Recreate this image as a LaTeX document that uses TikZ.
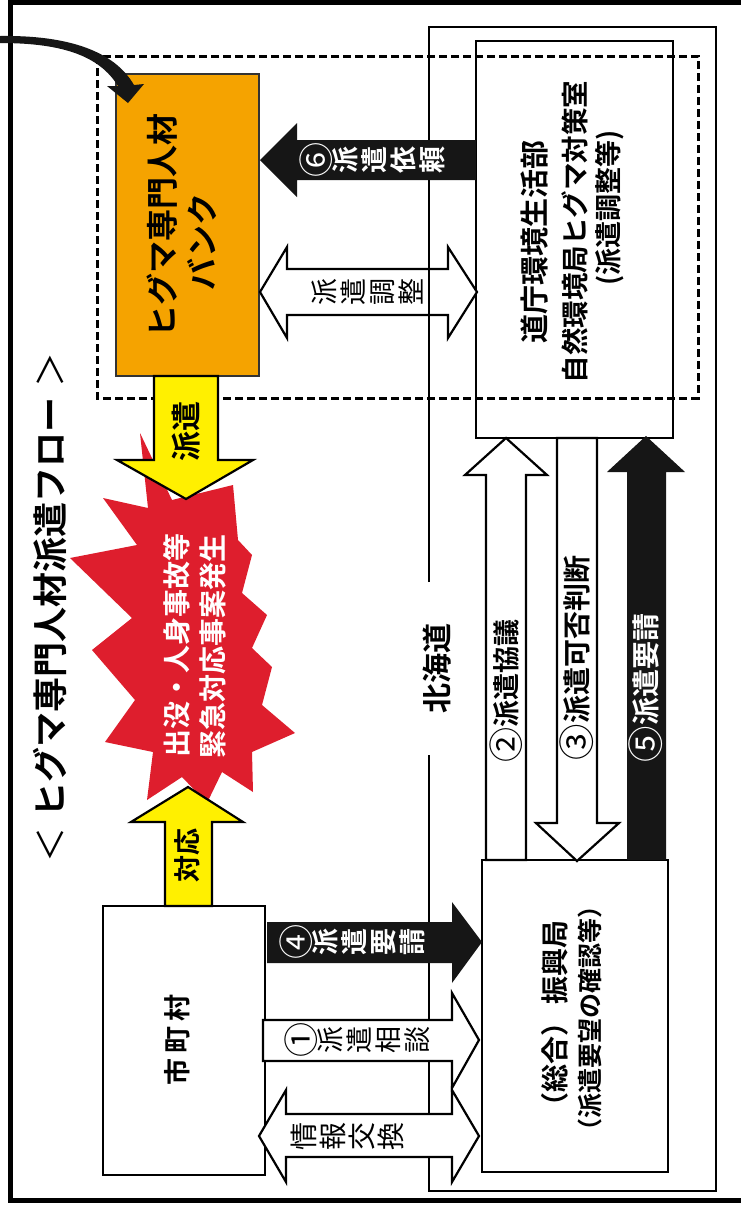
\documentclass[tikz,border=0pt]{standalone}
\usepackage{fontspec}
\usepackage{graphicx}
\setmainfont{Noto Sans CJK JP}[BoldFont={Noto Sans CJK JP Bold}]
\definecolor{bankorange}{RGB}{245,163,0}
\definecolor{arrowyellow}{RGB}{255,240,0}
\definecolor{burstred}{RGB}{222,30,45}
\definecolor{darkfill}{RGB}{22,22,22}
\newcommand{\setfs}[2]{\fontsize{#1pt}{#2pt}\selectfont}
\newcommand{\cnum}[1]{\raisebox{-0.11em}{\scalebox{1.3}{\mdseries #1}}}
\begin{document}
\begin{tikzpicture}[x=1pt,y=-1pt,
  rot/.style={rotate=90, inner sep=0pt},
  boxn/.style={draw=black, line width=2.6pt, fill=white, inner sep=0pt},
  frameline/.style={draw=black, line width=2.6pt},
  dashedframe/.style={draw=black, line width=3pt, dash pattern=on 8pt off 4pt},
  warrow/.style={draw=black, line width=2.2pt, fill=white, line join=miter},
  barrow/.style={fill=darkfill},
  yarrow/.style={draw=black, line width=2.2pt, fill=arrowyellow, line join=miter},
  tate/.style={rotate=90, inner sep=0pt, align=center},
]
\useasboundingbox (0,0) rectangle (740,1208);
\fill[white] (0,0) rectangle (740,1208);
% outer border
\draw[line width=5pt] (10.5,2.5) rectangle (760,1200);

% title
\node[rot, font=\setfs{35}{35}\bfseries] (title) at (50,607)
  {{\mdseries ＜}\hspace{10pt}ヒグマ専門人材派遣フロー\hspace{10pt}{\mdseries ＞}};

% Hokkaido frame
\draw[frameline] (429,582) -- (429,27) -- (716,27) -- (716,1191) -- (429,1191) -- (429,755);
\node[rot, font=\setfs{30}{30}\bfseries] (hokkaido) at (437,668) {北海道};

% boxes
\node[boxn, minimum width=197pt, minimum height=397pt] (dochou) at (574.5,239.5) {};
\node[boxn, minimum width=186pt, minimum height=312pt] (shinko) at (575,1016) {};
\node[boxn, minimum width=162pt, minimum height=269pt] (city) at (184,1040.5) {};
\node[boxn, fill=bankorange, draw=black!80, minimum width=143pt, minimum height=302pt] (bank) at (187.5,225) {};

% dashed group
\draw[dashedframe] (97,56) rectangle (698,398);

% red burst
\fill[burstred] (140,433) -- (172,500) -- (233,485) -- (238,540) -- (252,555) -- (242,593)
  -- (267,615) -- (252,648) -- (272,667) -- (262,705) -- (295,733) -- (252,752)
  -- (253,792) -- (222,772) -- (207,803) -- (182,777) -- (147,800) -- (153,752)
  -- (105,742) -- (135,700) -- (92,650) -- (132,618) -- (70,558) -- (137,545)
  -- (103,498) -- (148,508) -- cycle;

% curved arrow into the bank
\fill[darkfill] (0,36) .. controls (70,35) and (115,52) .. (134,85) -- (144,84) -- (128,103)
  -- (107,86) -- (118,86) .. controls (100,57) and (65,43) .. (0,43) -- cycle;

% yellow arrows
\draw[yarrow] (154,376) -- (218,376) -- (218,460) -- (253,460) -- (186,499) -- (117,460) -- (154,460) -- cycle;
\draw[yarrow] (165,906) -- (165,822) -- (131,822) -- (188,787) -- (243,822) -- (212,822) -- (212,906) -- cycle;

% (6) black arrow dochou -> bank
\fill[barrow] (260,160) -- (297,123) -- (297,140) -- (476,140) -- (476,180) -- (297,180) -- (297,197) -- cycle;
% double arrow bank <-> dochou
\draw[warrow] (260,292) -- (287,247) -- (287,269) -- (448,269) -- (448,247) -- (477,292)
  -- (448,338) -- (448,315) -- (287,315) -- (287,338) -- cycle;
\draw[frameline] (429,269) -- (429,315);

% (4) black arrow city -> shinko
\fill[barrow] (267,922) -- (452,922) -- (452,902) -- (482,942) -- (452,983) -- (452,963) -- (267,963) -- cycle;
% (1) white arrow city -> shinko
\draw[warrow] (263,1020) -- (452,1020) -- (452,993) -- (479,1040) -- (452,1088) -- (452,1061) -- (263,1061) -- cycle;
% info exchange double arrow
\draw[warrow] (259,1136) -- (286,1090) -- (286,1114) -- (452,1114) -- (452,1090) -- (479,1136)
  -- (452,1182) -- (452,1157) -- (286,1157) -- (286,1182) -- cycle;

% (2) white arrow shinko -> dochou
\draw[warrow] (506,438) -- (547,475) -- (526,475) -- (526,860) -- (486,860) -- (486,475) -- (465,475) -- cycle;
% (3) white arrow dochou -> shinko
\draw[warrow] (557,438) -- (597,438) -- (597,823) -- (619,823) -- (577,861) -- (536,823) -- (557,823) -- cycle;
% (5) black arrow shinko -> dochou
\fill[barrow] (646,436) -- (685,472) -- (666,472) -- (666,860) -- (627,860) -- (627,472) -- (607,472) -- cycle;

% box texts
\node[rot, font=\setfs{32}{32}\bfseries] (bankA) at (162,225) {ヒグマ専門人材};
\node[rot, font=\setfs{32}{32}\bfseries] (bankB) at (202,242) {バンク};
\node[rot, font=\setfs{29}{29}\bfseries] (dochouA) at (535,242) {道庁環境生活部};
\node[rot, font=\setfs{27.5}{28}\bfseries] (dochouB) at (575,232) {自然環境局ヒグマ対策室};
\node[rot, font=\setfs{27}{27}\bfseries] (dochouC) at (610,208) {(派遣調整等)};
\node[rot, font=\setfs{28}{28}\bfseries] (shinkoA) at (555,1020) {（総合）\hspace{4pt}振興局};
\node[rot, font=\setfs{25}{25}\bfseries] (shinkoB) at (590,1018) {（派遣要望の確認等）};
\node[rot, font=\setfs{27}{27}\bfseries] (cityT) at (177,1040) {市\hspace{5pt}町\hspace{5pt}村};
\node[rot, font=\setfs{28}{28}\bfseries, text=white] (burstA) at (177,645) {出没・人身事故等};
\node[rot, font=\setfs{28}{28}\bfseries, text=white] (burstB) at (213,646) {緊急対応事案発生};

% arrow labels
\node[rot, font=\setfs{30}{30}\bfseries] (labhaken) at (186,431) {派遣};
\node[rot, font=\setfs{27}{27}\bfseries] (labtaiou) at (187,855) {対応};
\node[tate, font=\setfs{27}{29}\bfseries, text=white] (lab6) at (372,160) {\cnum{⑥}\\派\\遣\\依\\頼};
\node[tate, font=\setfs{27}{29}] (labchosei) at (367,292) {派\\遣\\調\\整};
\node[tate, font=\setfs{27}{29}\bfseries, text=white] (lab4) at (352,942) {\cnum{④}\\派\\遣\\要\\請};
\node[tate, font=\setfs{27}{29}] (lab1) at (357,1040) {\cnum{①}\\派\\遣\\相\\談};
\node[tate, font=\setfs{28}{29}] (labinfo) at (347,1136) {情\\報\\交\\換};
\node[rot, font=\setfs{27}{27}\bfseries] (lab2) at (506,691) {\cnum{②}派遣協議};
\node[rot, font=\setfs{28}{28}\bfseries] (lab3) at (577,658) {\cnum{③}派遣可否判断};
\node[rot, font=\setfs{28}{28}\bfseries, text=white] (lab5) at (646,688) {\cnum{⑤}派遣要請};
\end{tikzpicture}
\end{document}
